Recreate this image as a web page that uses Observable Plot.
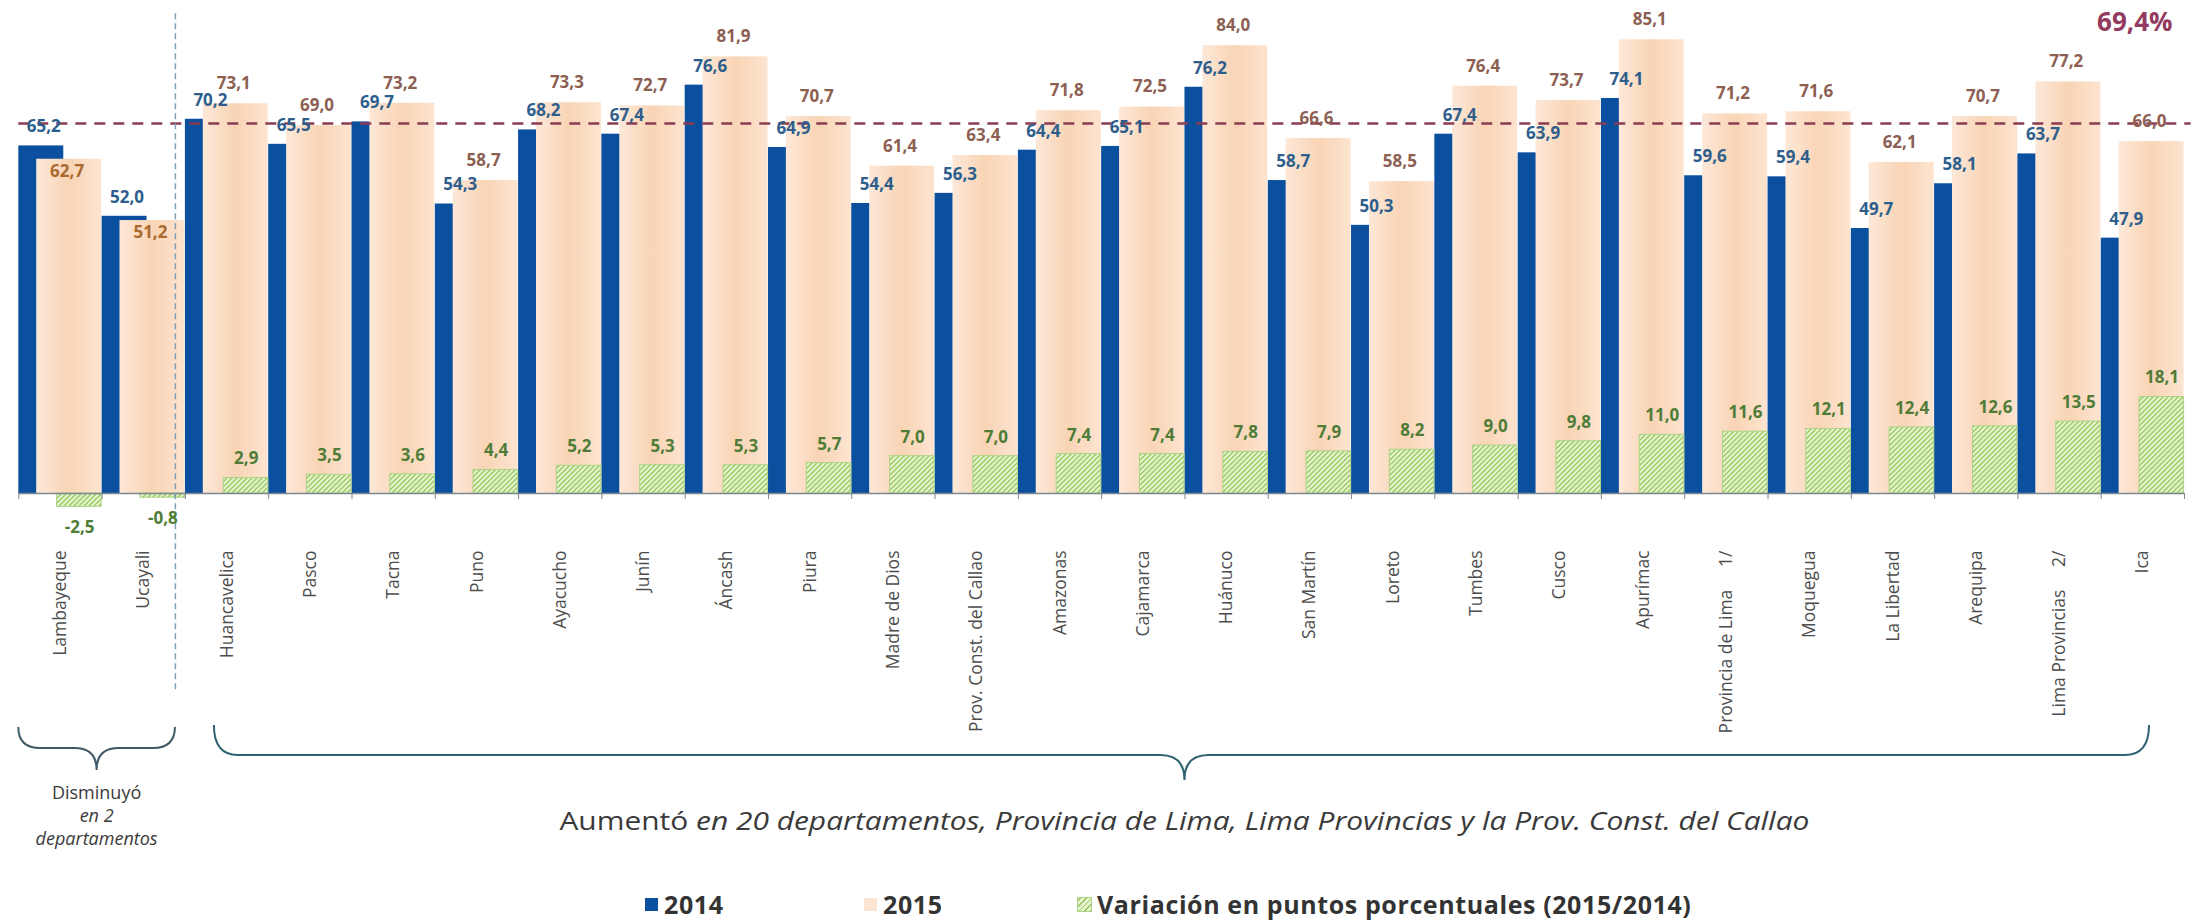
<!DOCTYPE html>
<html>
<head>
<meta charset="utf-8">
<script src="https://cdn.jsdelivr.net/npm/d3@7"></script>
<script src="https://cdn.jsdelivr.net/npm/@observablehq/plot@0.6"></script>
<style>
  html, body { margin: 0; padding: 0; background: #ffffff; }
  body { width: 2208px; height: 922px; overflow: hidden; font-family: "Open Sans", sans-serif; }
  #grafico { position: relative; width: 2208px; }
  #leyenda { position: relative; width: 2208px; height: 52px; }
  .item { position: absolute; top: 17px; display: flex; align-items: center; font-weight: 700; font-size: 25px; letter-spacing: 0.6px; color: #333333; white-space: nowrap; }
  .sw { width: 13px; height: 13px; margin-right: 6px; display: inline-block; }
</style>
</head>
<body>
<div id="grafico"></div>
<div id="leyenda"></div>
<script>
// ---------------- DATA ----------------
const departamentos = ["Lambayeque", "Ucayali", "Huancavelica", "Pasco", "Tacna", "Puno", "Ayacucho", "Junín", "Áncash", "Piura", "Madre de Dios", "Prov. Const. del Callao", "Amazonas", "Cajamarca", "Huánuco", "San Martín", "Loreto", "Tumbes", "Cusco", "Apurímac", "Provincia de Lima\u00a0\u00a0\u00a0\u00a0 1/", "Moquegua", "La Libertad", "Arequipa", "Lima Provincias\u00a0\u00a0\u00a0\u00a0 2/", "Ica"];
const valores2014 = [65.2, 52.0, 70.2, 65.5, 69.7, 54.3, 68.2, 67.4, 76.6, 64.9, 54.4, 56.3, 64.4, 65.1, 76.2, 58.7, 50.3, 67.4, 63.9, 74.1, 59.6, 59.4, 49.7, 58.1, 63.7, 47.9];
const valores2015 = [62.7, 51.2, 73.1, 69.0, 73.2, 58.7, 73.3, 72.7, 81.9, 70.7, 61.4, 63.4, 71.8, 72.5, 84.0, 66.6, 58.5, 76.4, 73.7, 85.1, 71.2, 71.6, 62.1, 70.7, 77.2, 66.0];
const variacion = [-2.5, -0.8, 2.9, 3.5, 3.6, 4.4, 5.2, 5.3, 5.3, 5.7, 7.0, 7.0, 7.4, 7.4, 7.8, 7.9, 8.2, 9.0, 9.8, 11.0, 11.6, 12.1, 12.4, 12.6, 13.5, 18.1];
const promedioNacional = 69.4;
const etiquetaPromedio = "69,4%";
const seriesLeyenda = ["2014", "2015", "Variación en puntos porcentuales (2015/2014)"];
const textoDisminuyo = ["Disminuyó", "en 2", "departamentos"];
const textoAumento = ["Aumentó", " en 20 departamentos, Provincia de Lima, Lima Provincias y la Prov. Const. del Callao"];
const grupoDisminuyo = [0, 2];   // category index range [from, to)
const grupoAumento = [2, 26];

// ---------------- STYLE ----------------
const AZUL = "#0b4f9f";
const FUENTE = "Open Sans";
const loc = d3.formatLocale({decimal: ",", thousands: ".", grouping: [3], currency: ["", ""], minus: "-"});
const fmt = loc.format(".1f");

const datos = departamentos.map((d, i) => ({i, dep: d, v14: valores2014[i], v15: valores2015[i], va: variacion[i]}));

const H = 870;
const BASE = 493;

function defs() {
  const svg = d3.create("svg:defs");
  const p = svg.append("pattern").attr("id", "rayado").attr("patternUnits", "userSpaceOnUse")
    .attr("width", 5).attr("height", 5);
  p.append("rect").attr("width", 5).attr("height", 5).attr("fill", "#e6f3d0");
  p.append("path").attr("d", "M0,5 L5,0 M-1,1 L1,-1 M4,6 L6,4").attr("stroke", "#98c85c").attr("stroke-width", 1.3);
  const g = svg.append("linearGradient").attr("id", "durazno").attr("x1", 0).attr("x2", 1).attr("y1", 0).attr("y2", 0);
  g.append("stop").attr("offset", "0%").attr("stop-color", "#fde8d8");
  g.append("stop").attr("offset", "50%").attr("stop-color", "#f9d4b5");
  g.append("stop").attr("offset", "100%").attr("stop-color", "#fde4d0");
  return svg.node();
}

function llaves(index, scales, values, dims) {
  const x = scales.x;
  const y0 = dims.height - dims.marginBottom;
  const g = d3.create("svg:g").attr("font-family", FUENTE);
  const brace = (xa, xb, xm, top, mid, tip, r) =>
    `M${xa},${top} Q${xa},${mid} ${xa + r},${mid} L${xm - r},${mid} Q${xm},${mid} ${xm},${tip} ` +
    `Q${xm},${mid} ${xm + r},${mid} L${xb - r},${mid} Q${xb},${mid} ${xb},${top}`;
  // left brace
  const la = x(grupoDisminuyo[0]), lb = x(grupoDisminuyo[1]) - 10, lm = (la + lb) / 2;
  g.append("path").attr("d", brace(la, lb, lm, y0 + 234, y0 + 255, y0 + 277, 22))
    .attr("fill", "none").attr("stroke", "#3f5966").attr("stroke-width", 2);
  // right brace
  const ra = x(grupoAumento[0]) + 29, rb = x(grupoAumento[1]) - 35, rm = (x(grupoAumento[0]) + x(grupoAumento[1])) / 2;
  g.append("path").attr("d", brace(ra, rb, rm, y0 + 232, y0 + 262, y0 + 287, 24))
    .attr("fill", "none").attr("stroke", "#2f6272").attr("stroke-width", 2);
  // texts
  const t1 = g.append("text").attr("text-anchor", "middle").attr("fill", "#3a3a3a").attr("font-size", 18);
  textoDisminuyo.forEach((s, k) => {
    t1.append("tspan").attr("x", lm).attr("y", y0 + 306 + k * 23).attr("font-style", k === 0 ? "normal" : "italic").text(s);
  });
  const t2 = g.append("text").attr("text-anchor", "middle").attr("fill", "#3a3a3a").attr("font-size", 25)
    .attr("x", rm).attr("y", y0 + 337)
    .attr("textLength", 1250).attr("lengthAdjust", "spacingAndGlyphs");
  textoAumento.forEach((s, k) => {
    t2.append("tspan").attr("font-style", k === 0 ? "normal" : "italic").text(s);
  });
  return g.node();
}

const txt = {fontFamily: FUENTE, fontSize: 17, fontWeight: "bold"};

const chart = Plot.plot({
  width: 2208,
  height: H,
  marginLeft: 18.3,
  marginRight: 24,
  marginTop: 13.2,
  marginBottom: H - BASE,
  x: {type: "linear", domain: [0, 26], axis: null},
  y: {domain: [0, 90], axis: null},
  style: {fontFamily: FUENTE, background: "#ffffff", overflow: "visible"},
  marks: [
    defs,
    Plot.rectY(datos, {x1: d => d.i, x2: d => d.i + 0.54, y: "v14", fill: AZUL}),
    Plot.rectY(datos, {x1: d => d.i + 0.215, x2: d => d.i + 0.995, y: "v15", fill: "url(#durazno)"}),
    Plot.rectY(datos, {x1: d => d.i + 0.46, x2: d => d.i + 0.995, y: "va", fill: "url(#rayado)", stroke: "#add486", strokeWidth: 1}),
    Plot.ruleY([0], {x1: 0, x2: 26, stroke: "#7d8790", strokeWidth: 1.5}),
    Plot.axisX(d3.range(0, 27), {tickSize: 6, tickFormat: () => "", color: "#7d8790", label: null}),
    Plot.axisX(departamentos.map((d, i) => i + 0.5), {
      tickSize: 0, tickPadding: 57, tickRotate: -90, label: null,
      tickFormat: v => departamentos[Math.round(v - 0.5)],
      fontSize: 17.5, color: "#4d4d4d", fontFamily: FUENTE
    }),
    Plot.ruleY([promedioNacional], {x1: 0, x2: 26.08, stroke: "#8a3d52", strokeWidth: 2.5, strokeDasharray: "11,8"}),
    Plot.ruleX([grupoAumento[0]], {dx: -10, stroke: "#7f9db3", strokeWidth: 1.5, strokeDasharray: "6,4", insetBottom: -197}),
    Plot.text(datos, {x: d => d.i + 0.3, y: "v14", text: d => fmt(d.v14), dy: -19, fill: "#2e5e8c", ...txt}),
    Plot.text(datos.filter(d => d.va >= 0), {x: d => d.i + 0.58, y: "v15", text: d => fmt(d.v15), dy: -20, fill: "#8d5f52", ...txt}),
    Plot.text(datos.filter(d => d.va < 0), {x: d => d.i + 0.58, y: "v15", text: d => fmt(d.v15), dy: 12, fill: "#a9692f", ...txt}),
    Plot.text(datos.filter(d => d.va >= 0), {x: d => d.i + 0.73, y: "va", text: d => fmt(d.va), dy: -19, fill: "#4f7d37", ...txt}),
    Plot.text(datos.filter(d => d.va < 0), {x: d => d.i + 0.73, y: "va", text: d => fmt(d.va), dy: 21, fill: "#4f7d37", ...txt}),
    Plot.text([etiquetaPromedio], {frameAnchor: "top-right", dx: -12, dy: 9, lineAnchor: "middle", textAnchor: "end",
      fontSize: 26, fontWeight: "bold", fill: "#933a5f", fontFamily: FUENTE}),
    llaves
  ]
});
document.getElementById("grafico").appendChild(chart);

// ---------------- LEGEND ----------------
const leyenda = document.getElementById("leyenda");
const posiciones = [645, 864, 1078];
const muestras = [
  `background:${AZUL};`,
  `background:#fbe6d6;`,
  `background: repeating-linear-gradient(-45deg, #98c85c 0 1px, #e6f3d0 1px 4px); outline: 1px solid #add486;`
];
seriesLeyenda.forEach((s, k) => {
  const it = document.createElement("div");
  it.className = "item";
  it.style.left = posiciones[k] + "px";
  it.innerHTML = `<span class="sw" style="${muestras[k]}"></span><span>${s}</span>`;
  leyenda.appendChild(it);
});
</script>
</body>
</html>
